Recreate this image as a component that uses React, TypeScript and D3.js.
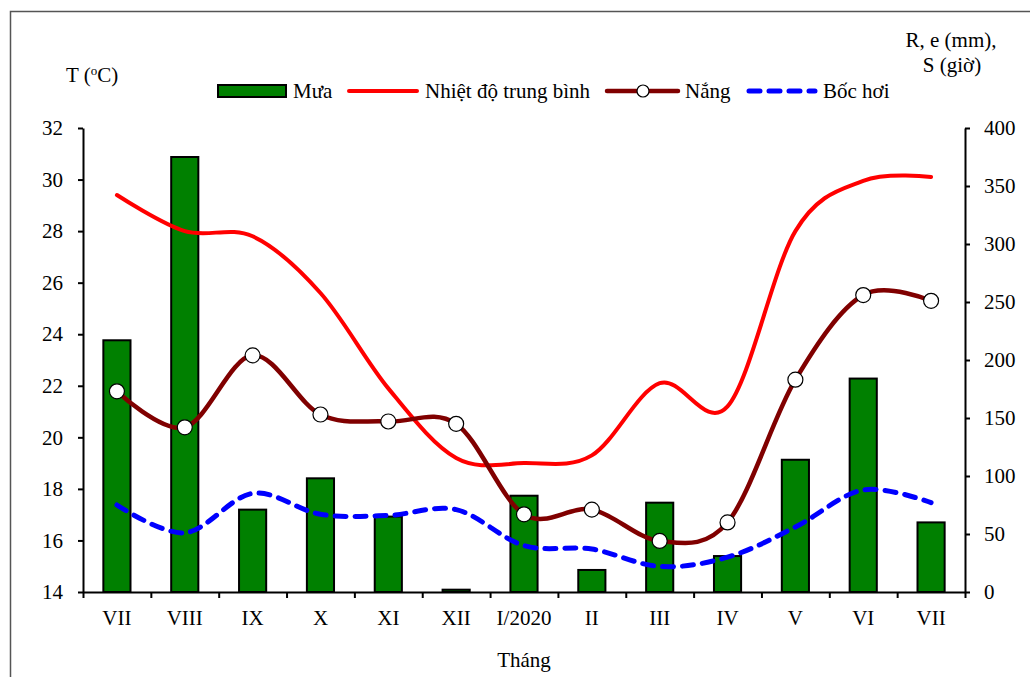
import React, { useEffect, useRef } from 'react';
import * as d3 from 'd3';

const months = ['VII', 'VIII', 'IX', 'X', 'XI', 'XII', 'I/2020', 'II', 'III', 'IV', 'V', 'VI', 'VII'];
const rain = [217, 375, 71, 98, 65, 2, 83, 19, 77, 31, 114, 184, 60];
const temperature = [29.4, 28.0, 27.8, 25.6, 21.9, 19.2, 19.0, 19.3, 22.1, 21.2, 28.0, 29.95, 30.1];
const sunshine = [173, 142, 204, 153, 147, 145, 67, 71, 44, 60, 183, 256, 251];
const evaporation = [75, 51, 85, 67, 66, 71, 40, 37, 22, 30, 56, 88, 77];
const leftTicks = [14, 16, 18, 20, 22, 24, 26, 28, 30, 32];
const rightTicks = [0, 50, 100, 150, 200, 250, 300, 350, 400];

const FONT = 'Liberation Serif';

const App: React.FC = () => {
  const ref = useRef<SVGSVGElement>(null);

  useEffect(() => {
    if (!ref.current) return;
    const width = 1030;
    const height = 677;
    const margin = { top: 128, right: 65, bottom: 86, left: 83 };

    const svg = d3.select(ref.current);
    svg.selectAll('*').remove();

    // outer frame
    svg
      .append('rect')
      .attr('x', 10.5)
      .attr('y', 11.5)
      .attr('width', width + 20)
      .attr('height', height + 20)
      .attr('fill', 'white')
      .attr('stroke', '#555')
      .attr('stroke-width', 1.5);

    const idx = months.map((_, i) => i);
    const x = d3
      .scaleBand<number>()
      .domain(idx)
      .range([margin.left, width - margin.right])
      .padding(0);
    const cx = (i: number) => x(i)! + x.bandwidth() / 2;
    const barW = x.bandwidth() * 0.4;

    const yL = d3.scaleLinear().domain([14, 32]).range([height - margin.bottom + 1, margin.top]);
    const yR = d3.scaleLinear().domain([0, 400]).range([height - margin.bottom + 1, margin.top]);
    const bottom = yR(0);

    // bars
    svg
      .append('g')
      .selectAll('rect')
      .data(rain)
      .enter()
      .append('rect')
      .attr('x', (d, i) => cx(i) - barW / 2)
      .attr('y', (d) => yR(d))
      .attr('width', barW)
      .attr('height', (d) => bottom - yR(d))
      .attr('fill', '#008000')
      .attr('stroke', 'black')
      .attr('stroke-width', 2);

    const curve = d3.curveCatmullRom.alpha(0);

    const tempLine = d3
      .line<number>()
      .x((d, i) => cx(i))
      .y((d) => yL(d))
      .curve(curve);
    const rightLine = d3
      .line<number>()
      .x((d, i) => cx(i))
      .y((d) => yR(d))
      .curve(curve);

    svg
      .append('path')
      .attr('d', rightLine(evaporation)!)
      .attr('fill', 'none')
      .attr('stroke', '#0000ff')
      .attr('stroke-width', 5)
      .attr('stroke-dasharray', '11 9')
      .attr('stroke-linecap', 'round');

    svg
      .append('path')
      .attr('d', tempLine(temperature)!)
      .attr('fill', 'none')
      .attr('stroke', '#ff0000')
      .attr('stroke-width', 4)
      .attr('stroke-linecap', 'round');

    svg
      .append('path')
      .attr('d', rightLine(sunshine)!)
      .attr('fill', 'none')
      .attr('stroke', '#800000')
      .attr('stroke-width', 4.5)
      .attr('stroke-linecap', 'round');

    svg
      .append('g')
      .selectAll('circle')
      .data(sunshine)
      .enter()
      .append('circle')
      .attr('cx', (d, i) => cx(i))
      .attr('cy', (d) => yR(d))
      .attr('r', 7.5)
      .attr('fill', 'white')
      .attr('stroke', 'black')
      .attr('stroke-width', 1.2);

    // axes
    const styleAxis = (g: any) => {
      g.attr('font-family', FONT).attr('font-size', 21);
      g.selectAll('path').attr('stroke', 'black').attr('stroke-width', 2);
      g.selectAll('line').attr('stroke', 'black').attr('stroke-width', 2);
      g.selectAll('text')
        .attr('font-family', FONT)
        .attr('font-size', 21)
        .style('font-family', FONT)
        .attr('fill', 'black');
    };

    svg
      .append('g')
      .attr('transform', `translate(${margin.left},0)`)
      .call(d3.axisLeft(yL).tickValues(leftTicks).tickSize(5).tickSizeOuter(0).tickPadding(15))
      .call(styleAxis);

    svg
      .append('g')
      .attr('transform', `translate(${width - margin.right},0)`)
      .call(d3.axisRight(yR).tickValues(rightTicks).tickSize(5).tickSizeOuter(0).tickPadding(14))
      .call(styleAxis);

    const xTicks = d3
      .scaleLinear()
      .domain([0, months.length])
      .range([margin.left, width - margin.right]);
    const xAxisG = svg
      .append('g')
      .attr('transform', `translate(0,${bottom})`)
      .call(
        d3
          .axisBottom(xTicks)
          .tickValues(d3.range(0, months.length + 1))
          .tickSize(6)
          .tickSizeOuter(0)
          .tickFormat(() => ''),
      )
      .call(styleAxis);
    xAxisG.selectAll('text').remove();

    svg
      .append('g')
      .selectAll('text')
      .data(months)
      .enter()
      .append('text')
      .attr('x', (d, i) => cx(i))
      .attr('y', 625)
      .attr('text-anchor', 'middle')
      .attr('font-family', FONT)
      .attr('font-size', 21)
      .text((d) => d);

    // axis titles
    svg
      .append('text')
      .attr('x', 524)
      .attr('y', 667)
      .attr('text-anchor', 'middle')
      .attr('font-family', FONT)
      .attr('font-size', 21)
      .text('Tháng');

    const tTitle = svg
      .append('text')
      .attr('x', 66)
      .attr('y', 82)
      .attr('font-family', FONT)
      .attr('font-size', 21);
    tTitle.append('tspan').text('T (');
    tTitle.append('tspan').attr('font-size', 13).attr('dy', -7).text('o');
    tTitle.append('tspan').attr('dy', 7).text('C)');

    svg
      .append('text')
      .attr('x', 951)
      .attr('y', 47)
      .attr('text-anchor', 'middle')
      .attr('font-family', FONT)
      .attr('font-size', 21)
      .text('R, e (mm),');
    svg
      .append('text')
      .attr('x', 952)
      .attr('y', 72)
      .attr('text-anchor', 'middle')
      .attr('font-family', FONT)
      .attr('font-size', 21)
      .text('S (giờ)');

    // legend
    const ly = 91;
    const legend = svg.append('g').attr('font-family', FONT).attr('font-size', 21);
    legend
      .append('rect')
      .attr('x', 218)
      .attr('y', ly - 6)
      .attr('width', 68)
      .attr('height', 12)
      .attr('fill', '#008000')
      .attr('stroke', 'black')
      .attr('stroke-width', 2);
    legend.append('text').attr('x', 293).attr('y', ly).attr('dy', '0.35em').text('Mưa');

    legend
      .append('line')
      .attr('x1', 349)
      .attr('x2', 417)
      .attr('y1', ly)
      .attr('y2', ly)
      .attr('stroke', '#ff0000')
      .attr('stroke-width', 4)
      .attr('stroke-linecap', 'round');
    legend.append('text').attr('x', 425).attr('y', ly).attr('dy', '0.35em').text('Nhiệt độ trung bình');

    legend
      .append('line')
      .attr('x1', 607)
      .attr('x2', 678)
      .attr('y1', ly)
      .attr('y2', ly)
      .attr('stroke', '#800000')
      .attr('stroke-width', 4.5)
      .attr('stroke-linecap', 'round');
    legend
      .append('circle')
      .attr('cx', 643)
      .attr('cy', ly)
      .attr('r', 6)
      .attr('fill', 'white')
      .attr('stroke', 'black')
      .attr('stroke-width', 1.2);
    legend.append('text').attr('x', 685).attr('y', ly).attr('dy', '0.35em').text('Nắng');

    legend
      .append('line')
      .attr('x1', 749)
      .attr('x2', 815)
      .attr('y1', ly)
      .attr('y2', ly)
      .attr('stroke', '#0000ff')
      .attr('stroke-width', 5)
      .attr('stroke-dasharray', '11 9')
      .attr('stroke-linecap', 'round');
    legend.append('text').attr('x', 823).attr('y', ly).attr('dy', '0.35em').text('Bốc hơi');
  }, []);

  return (
    <svg
      ref={ref}
      width={1030}
      height={677}
      style={{ position: 'absolute', left: 0, top: 0, display: 'block', background: 'white' }}
    />
  );
};

export default App;
